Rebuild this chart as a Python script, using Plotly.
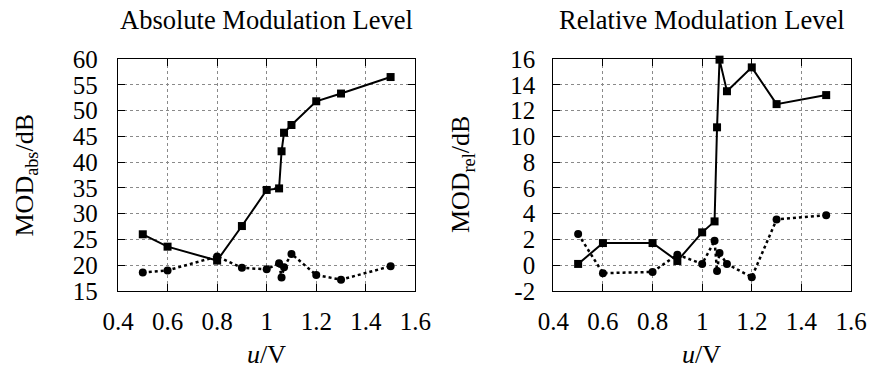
import plotly.graph_objects as go

# ---- data ----
u_volts = [0.5, 0.6, 0.8, 0.9, 1.0, 1.05, 1.06, 1.07, 1.1, 1.2, 1.3, 1.5]

abs_squares = [26.0, 23.6, 20.9, 27.6, 34.6, 34.9, 42.1, 45.7, 47.2, 51.8, 53.3, 56.5]
abs_circles = [18.6, 19.0, 21.7, 19.5, 19.2, 20.4, 17.6, 19.6, 22.2, 18.1, 17.2, 19.8]

rel_squares = [0.1, 1.72, 1.72, 0.33, 2.55, 3.4, 10.7, 15.95, 13.5, 15.35, 12.5, 13.2]
rel_circles = [2.42, -0.62, -0.52, 0.82, 0.1, 1.9, -0.44, 0.95, 0.1, -0.93, 3.55, 3.88]

x_ticks = [0.4, 0.6, 0.8, 1.0, 1.2, 1.4, 1.6]
x_ticktext = ["0.4", "0.6", "0.8", "1", "1.2", "1.4", "1.6"]
abs_yticks = [15, 20, 25, 30, 35, 40, 45, 50, 55, 60]
abs_yticktext = ["15", "20", "25", "30", "35", "40", "45", "50", "55", "60"]
rel_yticks = [-2, 0, 2, 4, 6, 8, 10, 12, 14, 16]
rel_yticktext = ["-2", "0", "2", "4", "6", "8", "10", "12", "14", "16"]

titles = ["Absolute Modulation Level", "Relative Modulation Level"]
x_title = "<i>u</i>/V"
y_titles = ["MOD<sub>abs</sub>/dB", "MOD<sub>rel</sub>/dB"]

# ---- layout geometry ----
W, H = 879, 376
ML, MR, MT, MB = 118, 24, 59, 85
PW = W - ML - MR
PH = H - MT - MB
FONT = "Liberation Serif, Times New Roman, serif"

fig = go.Figure()

def add_pair(xa, ya, sq, ci):
    fig.add_trace(go.Scatter(x=u_volts, y=sq, xaxis=xa, yaxis=ya, mode="lines+markers",
                             line=dict(color="black", width=2),
                             marker=dict(symbol="square", size=8, color="black"),
                             showlegend=False, cliponaxis=False))
    fig.add_trace(go.Scatter(x=u_volts, y=ci, xaxis=xa, yaxis=ya, mode="lines+markers",
                             line=dict(color="black", width=2.5, dash="dot"),
                             marker=dict(symbol="circle", size=8, color="black"),
                             showlegend=False, cliponaxis=False))

add_pair("x", "y", abs_squares, abs_circles)
add_pair("x2", "y2", rel_squares, rel_circles)

left_dom = [0, 299 / PW]
right_dom = [(555.7 - ML) / PW, 1]

common_axis = dict(
    showline=True, linecolor="black", linewidth=1.3, mirror="allticks",
    ticks="inside", ticklen=7, tickwidth=1.2, tickcolor="black",
    showgrid=True, gridcolor="#8a8a8a", gridwidth=1, griddash="dot",
    zeroline=False,
    tickfont=dict(family=FONT, size=25, color="black"),
)

fig.update_layout(
    width=W, height=H,
    margin=dict(l=ML, r=MR, t=MT, b=MB),
    paper_bgcolor="white", plot_bgcolor="white",
    font=dict(family=FONT, size=25, color="black"),
    xaxis=dict(domain=left_dom, range=[0.4, 1.6], tickvals=x_ticks, ticktext=x_ticktext,
               anchor="y", ticklabelstandoff=8, **common_axis),
    yaxis=dict(domain=[0, 1], range=[15, 60], tickvals=abs_yticks, ticktext=abs_yticktext,
               anchor="x", ticklabelstandoff=14, **common_axis),
    xaxis2=dict(domain=right_dom, range=[0.4, 1.6], tickvals=x_ticks, ticktext=x_ticktext,
                anchor="y2", ticklabelstandoff=8, **common_axis),
    yaxis2=dict(domain=[0, 1], range=[-2, 16], tickvals=rel_yticks, ticktext=rel_yticktext,
                anchor="x2", ticklabelstandoff=12, **common_axis),
)

def px_x(p):
    return (p - ML) / PW

def px_y(p):
    return 1 - (p - MT) / PH

annots = []
centers = [(ML + 417) / 2, (555.7 + 854.5) / 2]
for cx, t in zip(centers, titles):
    annots.append(dict(text=t, x=px_x(cx), y=px_y(20), xref="paper", yref="paper",
                       xanchor="center", yanchor="middle", showarrow=False,
                       font=dict(family=FONT, size=26.5, color="black")))
    annots.append(dict(text=x_title, x=px_x(cx), y=px_y(354), xref="paper", yref="paper",
                       xanchor="center", yanchor="middle", showarrow=False,
                       font=dict(family=FONT, size=26, color="black")))
for cx, t in zip([25, 464], y_titles):
    annots.append(dict(text=t, x=px_x(cx), y=px_y(175), xref="paper", yref="paper",
                       xanchor="center", yanchor="middle", showarrow=False, textangle=-90,
                       font=dict(family=FONT, size=26, color="black")))
fig.update_layout(annotations=annots)

fig.write_html("out.html")
